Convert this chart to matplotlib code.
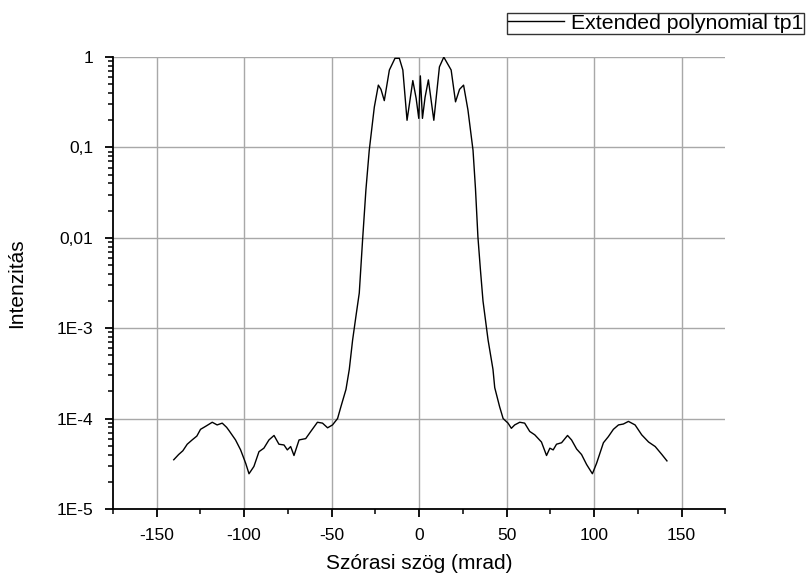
"""
Angular scattering intensity profile, log scale.
Saves out.png (806x577).
"""
import matplotlib
matplotlib.use("Agg")
import matplotlib.pyplot as plt
from matplotlib.ticker import FixedLocator, FixedFormatter, MultipleLocator, LogLocator

plt.rcParams["font.family"] = ["Liberation Sans", "DejaVu Sans"]
plt.rcParams["axes.unicode_minus"] = False

# ---- data ------------------------------------------------------------------
angle_mrad = [
    -140.2, -137.4, -135.0, -132.5, -129.7, -127.0, -124.9, -122.0, -118.2,
    -115.4, -112.5, -110.0, -108.7, -104.9, -102.0, -99.1, -97.2, -94.4,
    -91.5, -88.7, -85.8, -82.9, -80.1, -77.2, -75.3, -73.4, -71.5, -68.6,
    -64.8, -61.9, -58.1, -55.2, -52.3, -49.5, -46.6, -44.7, -41.8, -39.9,
    -38.0, -36.0, -34.2, -32.3, -30.4, -28.5, -25.6, -23.3, -21.8, -19.9,
    -17.0, -13.8, -11.3, -9.3, -6.9, -3.6, -1.7, -0.2, 0.7, 1.9, 3.4, 5.3,
    8.4, 11.6, 14.1, 18.3, 20.8, 23.1, 25.4, 27.9, 30.8, 32.2, 33.6, 35.0,
    36.5, 39.4, 42.2, 43.2, 46.0, 48.0, 50.8, 52.7, 54.6, 57.5, 60.3, 63.2,
    66.1, 69.9, 72.8, 74.7, 76.6, 78.5, 81.4, 84.8, 87.1, 90.0, 92.8, 95.7,
    99.0, 101.4, 105.3, 108.1, 111.0, 113.9, 116.7, 119.6, 123.4, 127.2,
    131.1, 134.9, 138.7, 141.6,
]
intensity = [
    3.5e-5, 4.0e-5, 4.4e-5, 5.2e-5, 5.8e-5, 6.4e-5, 7.6e-5, 8.2e-5, 9.1e-5,
    8.5e-5, 8.9e-5, 8.0e-5, 7.4e-5, 5.8e-5, 4.5e-5, 3.2e-5, 2.45e-5, 2.95e-5,
    4.3e-5, 4.7e-5, 5.8e-5, 6.5e-5, 5.2e-5, 5.1e-5, 4.5e-5, 4.9e-5, 3.9e-5, 5.8e-5,
    6.0e-5, 7.2e-5, 9.1e-5, 8.9e-5, 7.9e-5, 8.5e-5, 1.0e-4, 1.35e-4, 2.1e-4, 3.5e-4,
    7.4e-4, 1.4e-3, 2.45e-3, 9.5e-3, 3.4e-2, 9.3e-2, 0.28, 0.49, 0.44, 0.33,
    0.72, 0.97, 0.97, 0.72, 0.20, 0.55, 0.35, 0.21, 0.62, 0.21, 0.36, 0.56,
    0.20, 0.78, 1.0, 0.72, 0.32, 0.44, 0.49, 0.26, 0.093, 0.035, 0.0102, 4.5e-3,
    2.0e-3, 7.4e-4, 3.5e-4, 2.2e-4, 1.35e-4, 1.0e-4, 8.9e-5, 7.8e-5, 8.5e-5, 9.1e-5, 8.9e-5, 7.2e-5,
    6.6e-5, 5.5e-5, 3.9e-5, 4.7e-5, 4.5e-5, 5.2e-5, 5.4e-5, 6.5e-5, 5.8e-5, 4.6e-5, 4.0e-5, 3.1e-5,
    2.45e-5, 3.2e-5, 5.4e-5, 6.3e-5, 7.6e-5, 8.5e-5, 8.7e-5, 9.3e-5, 8.5e-5, 6.6e-5,
    5.5e-5, 4.9e-5, 4.0e-5, 3.4e-5,
]
series_label = "Extended polynomial tp1"

x_ticks = [-150, -100, -50, 0, 50, 100, 150]
y_ticks = [1e-5, 1e-4, 1e-3, 1e-2, 1e-1, 1]
y_tick_labels = ["1E-5", "1E-4", "1E-3", "0,01", "0,1", "1"]

# ---- chart -------------------------------------------------------------------
fig = plt.figure(figsize=(8.06, 5.77), dpi=100)
ax = fig.add_axes([0.140, 0.118, 0.760, 0.783])

ax.plot(angle_mrad, intensity, color="black", lw=1.0, label=series_label)

ax.set_yscale("log")
ax.set_xlim(-175, 175)
ax.set_ylim(1e-5, 1)

ax.xaxis.set_major_locator(FixedLocator(x_ticks))
ax.xaxis.set_minor_locator(MultipleLocator(25))
ax.yaxis.set_major_locator(FixedLocator(y_ticks))
ax.yaxis.set_major_formatter(FixedFormatter(y_tick_labels))
ax.yaxis.set_minor_locator(LogLocator(base=10, subs=range(2, 10), numticks=20))

ax.grid(True, which="major", color="#a8a8a8", lw=1.0)
ax.set_axisbelow(True)
for side in ("top", "right"):
    ax.spines[side].set_visible(False)
for side in ("left", "bottom"):
    ax.spines[side].set_linewidth(1.3)

ax.tick_params(which="major", direction="out", length=6, width=1.3,
               labelsize=12.5, pad=8)
ax.tick_params(which="minor", direction="out", length=3.5, width=1.1)

ax.set_xlabel("Szórasi szög (mrad)", fontsize=15, labelpad=8)
ax.set_ylabel("Intenzitás", fontsize=15, labelpad=22)

leg = ax.legend(loc="upper right", bbox_to_anchor=(0.998, 0.978),
                bbox_transform=fig.transFigure, fontsize=15.3, frameon=True,
                fancybox=False, borderpad=0.05, handlelength=2.6,
                handletextpad=0.35, borderaxespad=0)
leg.get_frame().set_edgecolor("black")
leg.get_frame().set_linewidth(1.0)

fig.savefig("out.png", dpi=100)
